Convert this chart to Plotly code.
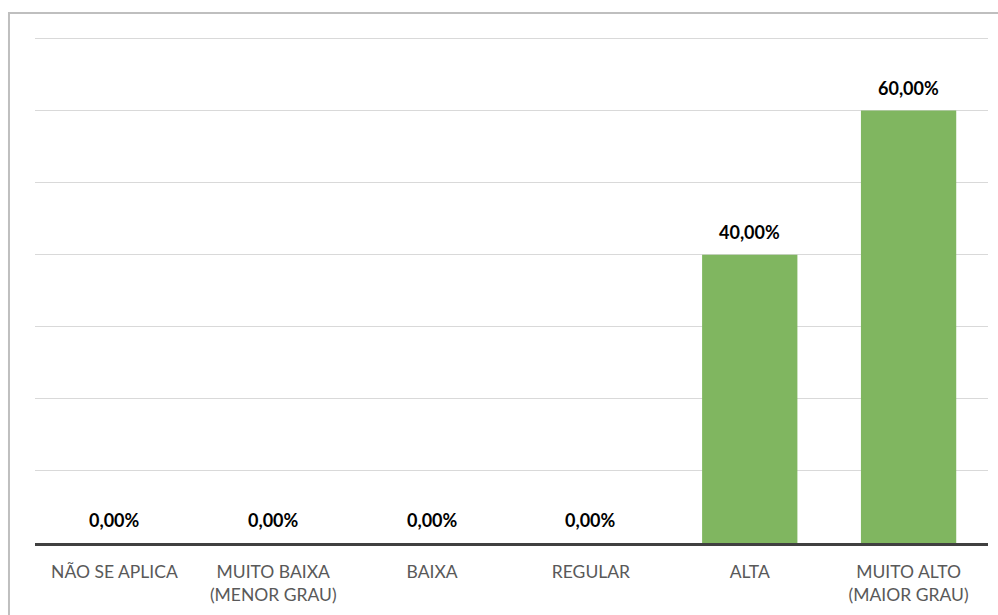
import plotly.graph_objects as go

categories = [
    "NÃO SE APLICA",
    "MUITO BAIXA<br>(MENOR GRAU)",
    "BAIXA",
    "REGULAR",
    "ALTA",
    "MUITO ALTO<br>(MAIOR GRAU)",
]
values = [0.0, 0.0, 0.0, 0.0, 0.40, 0.60]

bar_color = "#80B660"
font_family = "Lato, Open Sans, sans-serif"


def pct_label(v):
    return f"{v * 100:.2f}%".replace(".", ",")


fig = go.Figure(
    go.Bar(
        x=categories,
        y=values,
        marker=dict(color=bar_color, line=dict(width=0)),
        width=0.6,
        hoverinfo="skip",
    )
)

# value labels above each bar
for cat, v in zip(categories, values):
    fig.add_annotation(
        x=cat,
        y=v,
        text=f"<b>{pct_label(v)}</b>",
        showarrow=False,
        xanchor="center",
        yanchor="middle",
        yshift=23,
        font=dict(size=18, color="#000000", family=font_family),
    )

fig.update_layout(
    width=998,
    height=615,
    margin=dict(l=35, r=10, t=24, b=70),
    paper_bgcolor="white",
    plot_bgcolor="white",
    showlegend=False,
    font=dict(family=font_family),
    xaxis=dict(
        showline=True,
        linecolor="#404040",
        linewidth=3,
        ticks="",
        tickfont=dict(size=17.5, color="#595959", family=font_family),
        ticklabelstandoff=11,
        showgrid=False,
        zeroline=False,
    ),
    yaxis=dict(
        range=[0, 0.72],
        dtick=0.1,
        showticklabels=False,
        showgrid=True,
        gridcolor="#D9D9D9",
        gridwidth=1,
        zeroline=False,
        ticks="",
    ),
    shapes=[
        dict(
            type="rect",
            xref="paper",
            yref="paper",
            x0=-0.0273,
            x1=1.05,
            y0=-0.3,
            y1=(545 - 13) / 521,
            line=dict(color="#BFBFBF", width=2),
            fillcolor="rgba(0,0,0,0)",
            layer="below",
        )
    ],
)

fig.write_html("out.html")
